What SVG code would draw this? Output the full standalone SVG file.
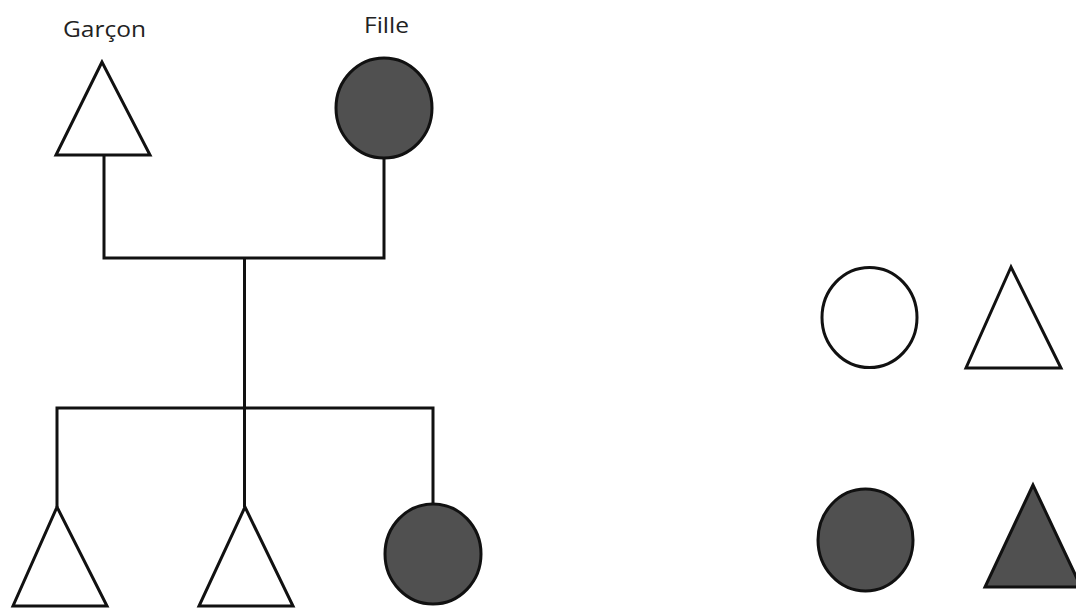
<svg xmlns="http://www.w3.org/2000/svg" width="1076" height="608" viewBox="0 0 1076 608">
<style>
.s{stroke:#111;stroke-width:3;stroke-linejoin:miter}
.o{fill:#fff}
.f{fill:#505050}
.l{fill:none;stroke:#111;stroke-width:3}
.t{font-family:"Open Sans","Liberation Sans",sans-serif;font-size:22px;fill:#222}
</style>
<rect width="1076" height="608" fill="#fff"/>
<g id="connectors">
<polyline class="l" points="104,154 104,258 384,258 384,158"/>
<line class="l" x1="244.5" y1="258" x2="244.5" y2="507"/>
<polyline class="l" points="57,507 57,408 433,408 433,504"/>
</g>
<g id="garcon">
<polygon class="s o" points="102,62 56,155 150,155"/>
<text class="t" x="63" y="37" textLength="83" lengthAdjust="spacingAndGlyphs">Garçon</text>
</g>
<g id="fille">
<ellipse class="s f" cx="384" cy="108" rx="48" ry="50"/>
<text class="t" x="364" y="33" textLength="45" lengthAdjust="spacingAndGlyphs">Fille</text>
</g>
<g id="enfant1"><polygon class="s o" points="57,507 13,606 107,606"/></g>
<g id="enfant2"><polygon class="s o" points="245,507 199,606 293,606"/></g>
<g id="enfant3"><ellipse class="s f" cx="433" cy="554" rx="48" ry="50"/></g>
<g id="legende-cercle-vide"><ellipse class="s o" cx="869.5" cy="317.5" rx="47.5" ry="50"/></g>
<g id="legende-triangle-vide"><polygon class="s o" points="1011,267 966,368 1061,368"/></g>
<g id="legende-cercle-plein"><ellipse class="s f" cx="865.5" cy="540" rx="47.5" ry="51"/></g>
<g id="legende-triangle-plein"><polygon class="s f" points="1033,485 985,587 1081,587"/></g>
</svg>
